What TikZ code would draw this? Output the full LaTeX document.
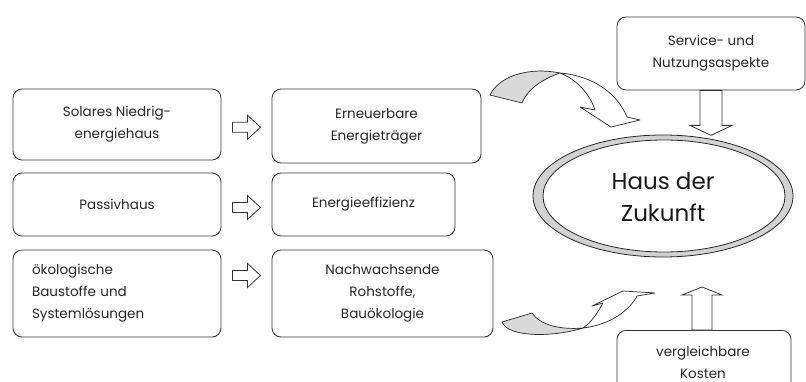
\documentclass[tikz,border=0pt]{standalone}
\usepackage{fontspec}
\setmainfont{Poppins}
\usetikzlibrary{shapes.geometric,calc}
\begin{document}
\begin{tikzpicture}[x=1pt,y=-1pt,
  box/.style={draw=black!80,line width=0.8pt,rounded corners=9pt,align=center,inner sep=0pt,
    text=black!85,font=\fontsize{13.5}{22}\selectfont},
  blk/.style={draw=black!80,line width=0.8pt,fill=white,line join=miter},
  ribbon/.style={draw=black!85,line width=0.7pt,line join=round},
  rarrow/.pic={\draw[blk] (-14,-5)--(1,-5)--(1,-12)--(14,0)--(1,12)--(1,5)--(-14,5)--cycle;},
  darrow/.pic={\draw[blk] (-11,0)--(11,0)--(11,35)--(21,35)--(0,45)--(-21,35)--(-11,35)--cycle;},
  uarrow/.pic={\draw[blk] (-10,0)--(10,0)--(10,-35)--(20,-35)--(0,-43)--(-20,-35)--(-10,-35)--cycle;}
  ]
\useasboundingbox (0,0) rectangle (806,382);
\fill[white] (0,0) rectangle (806,382);

% left column
\node[box,minimum width=208pt,minimum height=71pt] (l1) at (117,124.5) {Solares Niedrig-\\energiehaus};
\node[box,minimum width=208pt,minimum height=63pt] (l2) at (117,204.5) {Passivhaus};
\node[box,minimum width=208pt,minimum height=87pt,text width=170pt,align=left] (l3) at (117,293.5) {ökologische\\Baustoffe und\\Systemlösungen};

% middle column
\node[box,minimum width=209pt,minimum height=74pt] (m1) at (376.5,126) {Erneuerbare\\Energieträger};
\node[box,minimum width=183pt,minimum height=63pt] (m2) at (363.5,204.5) {Energieeffizienz};
\node[box,minimum width=221pt,minimum height=87pt] (m3) at (382.5,293.5) {Nachwachsende\\Rohstoffe,\\Bauökologie};

% right
\node[box,minimum width=188pt,minimum height=73pt] (svc) at (711,53.5) {Service- und\\Nutzungsaspekte};
\node[box,minimum width=174pt,minimum height=72pt,anchor=north] (vgl) at (704,330) {};
\node[text=black!85,font=\fontsize{13.5}{22}\selectfont,align=center] (vgltext) at (703,362) {vergleichbare\\Kosten};

% ellipse
\draw[black!85,line width=0.8pt,fill=gray!35] (663,196) ellipse [x radius=130, y radius=61];
\draw[black!85,line width=0.8pt,fill=white] (664,196) ellipse [x radius=121, y radius=56];
\node[ellipse,minimum width=260pt,minimum height=122pt,align=center,text=black!90,
  font=\fontsize{23}{32}\selectfont] (haus) at (663,197) {Haus der\\Zukunft};

% block arrows
\path ($(l1.east)!0.5!(m1.west)$)+(0,2) pic {rarrow};
\path ($(l2.east)!0.5!(m2.west)$)+(0,3) pic {rarrow};
\path ($(l3.east)!0.5!(m3.west)$)+(0,-18) pic {rarrow};
\path (svc.south) pic {darrow};
\path ($(vgl.north)+(-2,0)$) pic {uarrow};

% curved arrows (top)
\draw[ribbon,fill=gray!30] (490,95) .. controls (500,75) and (530,67) .. (560,73)
  .. controls (545,78) and (528,88) .. (522,103) -- cycle;
\draw[ribbon,fill=white] (560,73) .. controls (595,76) and (618,95) .. (627,117)
  -- (640,120) -- (611,127) -- (580,107) -- (595,110)
  .. controls (590,95) and (578,80) .. (560,73) -- cycle;
% curved arrows (bottom)
\draw[ribbon,fill=gray!30] (502,322) .. controls (508,338) and (555,337) .. (583,328)
  .. controls (560,330) and (540,325) .. (532,313) -- cycle;
\draw[ribbon,fill=white] (583,328) .. controls (592,322) and (598,312) .. (603,303)
  -- (592,306) -- (623,291) -- (655,293) -- (637,296)
  .. controls (630,310) and (610,325) .. (583,328) -- cycle;
\end{tikzpicture}
\end{document}
